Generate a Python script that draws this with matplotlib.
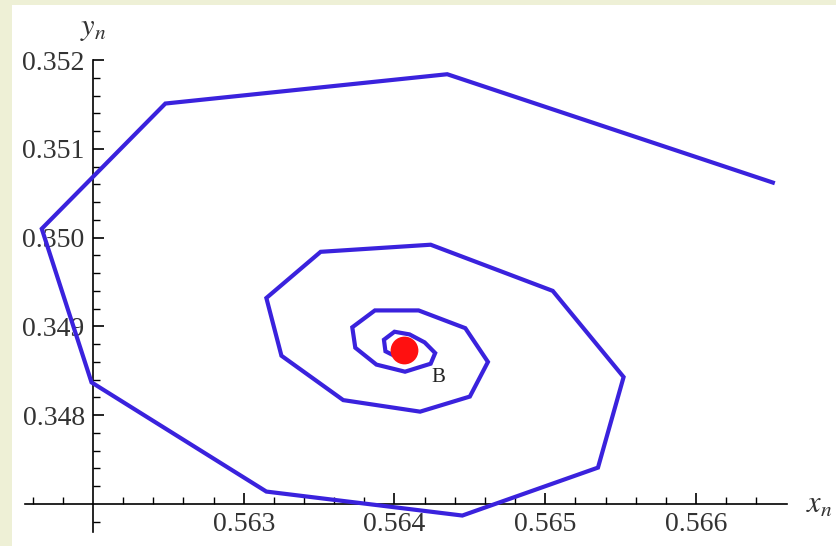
import matplotlib
matplotlib.use("Agg")
import matplotlib.pyplot as plt
from matplotlib.patches import Rectangle
import numpy as np

# orbit (x_n, y_n) spiralling into the fixed point B
xn = [0.56651, 0.56435, 0.56248, 0.56166, 0.56199, 0.56315, 0.56445,
      0.56535, 0.56552, 0.56505, 0.56424, 0.56351, 0.56315, 0.56325,
      0.56366, 0.56417, 0.56450, 0.56462, 0.56447, 0.56416, 0.56387,
      0.56372, 0.56374, 0.56388, 0.56407, 0.56424, 0.56427, 0.56420,
      0.56410, 0.56400, 0.56393, 0.56394, 0.56401, 0.56408]
yn = [0.35062, 0.35184, 0.35151, 0.35010, 0.34837, 0.34714, 0.34687,
      0.34741, 0.34843, 0.34940, 0.34992, 0.34984, 0.34932, 0.34867,
      0.34817, 0.34804, 0.34821, 0.34860, 0.34898, 0.34918, 0.34918,
      0.34899, 0.34876, 0.34857, 0.34849, 0.34858, 0.34870, 0.34882,
      0.34891, 0.34894, 0.34885, 0.34872, 0.34866, 0.34866]

# fixed point
bx, by = 0.56406, 0.34873

x_major = [0.563, 0.564, 0.565, 0.566]
y_major = [0.348, 0.349, 0.350, 0.351, 0.352]
x_labels = ["0.563", "0.564", "0.565", "0.566"]
y_labels = ["0.348", "0.349", "0.350", "0.351", "0.352"]

plt.rcParams['mathtext.fontset'] = 'stix'

fig = plt.figure(figsize=(8.36, 5.46), dpi=100, facecolor='#eef0d6')
ax = fig.add_axes([0, 0, 1, 1])
ax.set_facecolor('none')
# white paper, yellowish strip left and top
ax.add_patch(Rectangle((12 / 836, 0), 824 / 836, 541 / 546,
                       transform=ax.transAxes, facecolor='white',
                       edgecolor='none', zorder=-10))

ax.plot(xn, yn, color='#3a22dd', lw=3.0, solid_joinstyle='miter', zorder=3)
ax.plot(bx, by, 'o', color='#ff1010', markersize=20, mec='none', zorder=4)
ax.text(0.564245, 0.348425, 'B', family='Liberation Serif', fontsize=15,
        ha='left', va='center', color='#222222')

ax.set_xlim(0.561383, 0.566929)
ax.set_ylim(0.346527, 0.352676)

# mathematica style axes crossing at (0.562, 0.347)
for s in ['top', 'right']:
    ax.spines[s].set_visible(False)
ax.spines['left'].set_position(('data', 0.562))
ax.spines['bottom'].set_position(('data', 0.347))
ax.spines['left'].set_bounds(0.346685, 0.352)
ax.spines['bottom'].set_bounds(0.56155, 0.566604)
ax.spines['left'].set_linewidth(1.2)
ax.spines['bottom'].set_linewidth(1.2)

ax.set_xticks(x_major)
ax.set_xticklabels(x_labels)
ax.set_yticks(y_major)
ax.set_yticklabels(y_labels)
xm = [round(0.5616 + 0.0002 * i, 4) for i in range(25)]
xm = [v for v in xm if v not in x_major and v != 0.562]
ym = [round(0.3468 + 0.0002 * i, 4) for i in range(26)]
ym = [v for v in ym if v not in y_major and v != 0.347]
ax.set_xticks(xm, minor=True)
ax.set_yticks(ym, minor=True)

ax.tick_params(which='major', direction='in', length=8, width=1.2,
               labelsize=20, colors='black', labelcolor='#333333')
ax.tick_params(which='minor', direction='in', length=5, width=1.0)
ax.tick_params(axis='x', which='major', pad=6)
ax.tick_params(axis='y', which='major', pad=6)
for lab in ax.get_xticklabels() + ax.get_yticklabels():
    lab.set_family('Liberation Serif')

ax.text(0.562, 0.35235, r'$y_n$', fontsize=22, ha='center', va='center',
        color='#333333')
ax.text(0.56673, 0.34699, r'$x_n$', fontsize=22, ha='left', va='center',
        color='#333333')

fig.savefig('out.png', dpi=100, facecolor=fig.get_facecolor())
